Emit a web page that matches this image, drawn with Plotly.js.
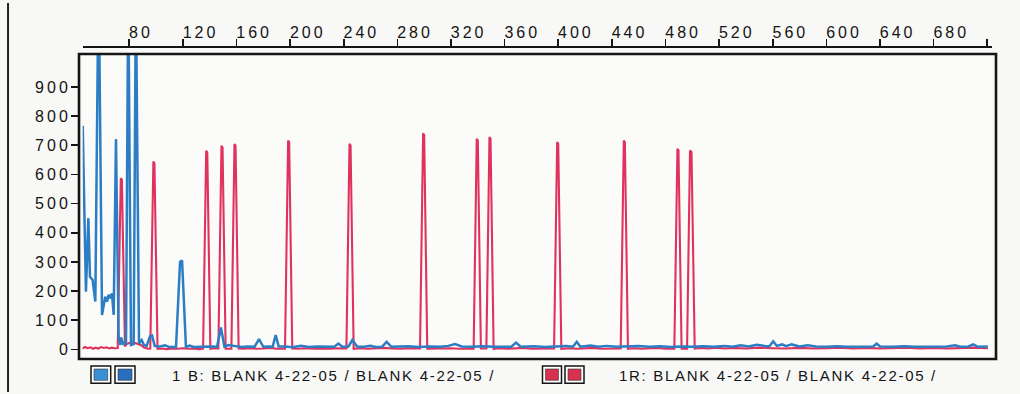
<!DOCTYPE html>
<html>
<head>
<meta charset="utf-8">
<script src="https://cdn.plot.ly/plotly-3.0.1.min.js"></script>
<style>
  html, body { margin: 0; padding: 0; background: #f8f8f7; }
  #chart { width: 1020px; height: 394px; }
  .xtick text, .ytick text { letter-spacing: 3px; }
  .annotation-text { letter-spacing: 1.7px; }
</style>
</head>
<body>
<div id="chart"></div>
<script>
// Size-standard channel (red): [size, signal] points of the trace
const redPoints = [
  [43,6],[45,3],[47,8],[49,4],[51,7],[53,2],[55,6],[57,3],[59,8],[61,5],[63,7],[65,3],[67,6],[69,4],
  [71.4,5],[73.7,587],[74.5,582],[76.8,10],[78,18],[80,22],[83,24],[86,20],[89,14],[91,6],[94,2],
  [95.7,3],[98.0,644],[98.8,638],[101.1,2],[104,3],[108,1],[112,3],[116,2],[120,4],[124,2],[128,3],[132,1],
  [135.1,3],[137.4,681],[138.2,676],[140.5,2],[143,4],
  [146.5,3],[148.8,698],[149.6,692],[151.9,2],[154,3],
  [156.2,2],[158.5,704],[159.3,699],[161.6,3],[165,2],[170,4],[175,2],[180,3],[185,5],[190,2],[194,3],
  [196.2,2],[198.5,716],[199.3,710],[201.6,3],[206,2],[212,4],[218,2],[224,3],[230,2],[236,4],[240,2],
  [242.0,3],[244.3,705],[245.1,699],[247.4,2],[252,4],[258,2],[264,3],[270,5],[276,3],[282,2],[288,4],[294,2],
  [296.9,3],[299.2,741],[300.0,735],[302.3,2],[308,3],[314,2],[320,4],[326,2],[332,3],
  [336.9,2],[339.2,722],[340.0,717],[342.3,3],[344.4,2],
  [346.4,3],[348.7,728],[349.5,722],[351.8,2],[356,4],[362,2],[368,3],[374,5],[380,2],[386,3],[392,2],
  [396.9,3],[399.2,711],[400.0,705],[402.3,2],[408,4],[414,2],[420,3],[426,5],[432,2],[438,3],[444,2],
  [446.6,3],[448.9,716],[449.7,710],[452.0,2],[456,4],[462,2],[468,3],[474,5],[480,2],[484,3],
  [486.6,2],[488.9,688],[489.7,683],[492.0,2],[494,3],
  [496.1,2],[498.3,682],[499.4,676],[501.8,3],[506,5],[512,3],[518,6],[524,3],[530,5],[540,3],[550,6],[560,4],
  [570,3],[580,5],[590,3],[600,4],[610,6],[620,3],[630,5],[640,3],[650,4],[660,6],[670,3],[680,5],
  [690,3],[700,4],[710,6],[720.5,4]
];

// Sample channel (blue): [size, signal] points; values above 1000 run off the scale
const bluePoints = [
  [45.3,767],[47.7,198],[49.5,450],[50.7,249],[52.7,238],[54.7,164],[56.6,1050],[57.7,1050],[59.7,118],
  [62.1,181],[63.4,164],[64.7,187],[65.9,175],[67.1,192],[68.4,118],[70.1,721],[72.1,43],[73.3,15],
  [73.9,41],[75.5,18],[77.6,20],[79.0,1050],[79.6,1050],[81.3,15],[83.3,18],[84.7,1050],[85.3,1050],
  [87.3,20],[89.3,32],[91.0,15],[93.0,12],[95.5,45],[97.0,48],[99.0,12],[102,9],[106.7,14],[110,8],
  [114.9,8],[117.9,300],[119.4,305],[122.3,8],[125,13],[128,8],[132,9],[137,8],[141,10],[145.5,9],
  [148.4,75],[151,9],[154,15],[158,12],[164,8],[168,10],[173.5,9],[176.8,35],[180,9],[184,10],[187,9],
  [189.2,49],[191.5,10],[196,10],[202,7],[208,12],[214,8],[220,10],[228,9],[233,9],[236,20],[239,9],
  [243.5,10],[246.4,32],[250,10],[255,9],[260,12],[264,8],[268.5,9],[272,26],[275.5,9],[280,9],[288,11],
  [296,8],[304,10],[312,9],[318,12],[323,18],[328,10],[336,9],[344,11],[352,9],[360,10],[365,9],
  [368.5,23],[372,9],[382,11],[390,8],[398,10],[406,12],[411,9],[413.8,26],[416.5,9],[424,13],[430,9],
  [436,12],[444,9],[452,10],[460,12],[468,9],[476,11],[484,8],[492,10],[500,9],[508,11],[516,9],
  [524,12],[530,9],[536,14],[542,10],[548,16],[554,12],[557.5,11],[560.4,28],[563,12],[567,17],
  [570,11],[574,17],[580,10],[586,14],[592,10],[600,9],[608,11],[616,9],[624,10],[632,9],[635,10],
  [637.5,20],[640,10],[650,9],[658,11],[666,9],[674,10],[682,9],[690,10],[696,14],[700,9],[706,10],
  [709.6,17],[713,9],[720.5,10]
];

// Axis ticks
const sizeTicks = [80,120,160,200,240,280,320,360,400,440,480,520,560,600,640,680,720];
const sizeTickText = ['80','120','160','200','240','280','320','360','400','440','480','520','560','600','640','680',''];
const signalTicks = [0,100,200,300,400,500,600,700,800,900];

// Legend labels
const blueLabel = '1 B: BLANK 4-22-05 / BLANK 4-22-05 /';
const redLabel = '1R: BLANK 4-22-05 / BLANK 4-22-05 /';

const RED = '#e0325e';
const BLUE = '#2b7dc4';
const INK = '#151515';
const FONT = 'Liberation Sans, Arial, Helvetica, sans-serif';

const traces = [
  {
    type: 'scatter', mode: 'lines', name: 'R',
    x: redPoints.map(p => p[0]), y: redPoints.map(p => p[1]),
    line: { color: RED, width: 2.1 }, hoverinfo: 'skip'
  },
  {
    type: 'scatter', mode: 'lines', name: 'B',
    x: bluePoints.map(p => p[0]), y: bluePoints.map(p => p[1]),
    line: { color: BLUE, width: 2.5 }, hoverinfo: 'skip'
  }
];

const yTop = 0.97756; // top of the framed area inside the plot box

// legend swatch: outer outlined square with an inset colour fill
function swatch(x0, x1, y0, y1, fill) {
  const px = 3 / 917, py = 3 / 312;
  return [
    { type: 'rect', xref: 'paper', yref: 'paper', x0: x0, x1: x1, y0: y0, y1: y1,
      line: { color: INK, width: 1.5 }, fillcolor: '#ffffff' },
    { type: 'rect', xref: 'paper', yref: 'paper', x0: x0 + px, x1: x1 - px, y0: y0 + py, y1: y1 - py,
      line: { color: '#333', width: 0.6 }, fillcolor: fill }
  ];
}

const shapes = [
  { type: 'rect', xref: 'paper', yref: 'paper', x0: 0, x1: 1, y0: 0, y1: yTop,
    line: { color: INK, width: 2.6 }, fillcolor: 'rgba(0,0,0,0)' },
  { type: 'line', xref: 'paper', yref: 'paper', x0: -0.0774, x1: -0.0774, y0: -0.106, y1: 1.141,
    line: { color: '#222', width: 2 } }
]
  .concat(swatch(0.01309, 0.03457, -0.0779, -0.02244, '#3a90d6'))
  .concat(swatch(0.03926, 0.06107, -0.0779, -0.02244, '#2a6ec0'))
  .concat(swatch(0.50545, 0.52617, -0.0779, -0.02244, '#d8304f'))
  .concat(swatch(0.52999, 0.55071, -0.0779, -0.02244, '#d8304f'));

const layout = {
  width: 1020, height: 394,
  margin: { l: 79, r: 24, t: 47, b: 35, pad: 0 },
  paper_bgcolor: '#f8f8f7',
  plot_bgcolor: '#fbfbfa',
  showlegend: false,
  font: { family: FONT, size: 16, color: INK },
  xaxis: {
    domain: [0.00403, 0.99564], range: [45.28, 723.56], autorange: false,
    side: 'top', anchor: 'free', position: 1,
    showline: true, linecolor: INK, linewidth: 2,
    ticks: 'outside', ticklen: 7, tickwidth: 1.6, tickcolor: INK,
    tickvals: sizeTicks, ticktext: sizeTickText,
    ticklabelposition: 'outside right', ticklabelshift: -2, ticklabelstandoff: 2,
    tickfont: { family: FONT, size: 16, color: INK },
    showgrid: false, zeroline: false
  },
  yaxis: {
    domain: [0, yTop], range: [-33, 1013], autorange: false,
    anchor: 'free', position: 0,
    tickvals: signalTicks, ticks: 'outside', ticklen: 8, tickwidth: 1.6, tickcolor: INK,
    ticklabelstandoff: -3,
    tickfont: { family: FONT, size: 16, color: INK },
    showgrid: false, zeroline: false, showline: false
  },
  shapes: shapes,
  annotations: [
    { xref: 'paper', yref: 'paper', x: 0.0992, y: -0.0513, xanchor: 'left', yanchor: 'middle',
      text: blueLabel, showarrow: false, font: { family: FONT, size: 15, color: INK } },
    { xref: 'paper', yref: 'paper', x: 0.5864, y: -0.0513, xanchor: 'left', yanchor: 'middle',
      text: redLabel, showarrow: false, font: { family: FONT, size: 15, color: INK } }
  ]
};

Plotly.newPlot('chart', traces, layout, { staticPlot: true, displayModeBar: false });
</script>
</body>
</html>
